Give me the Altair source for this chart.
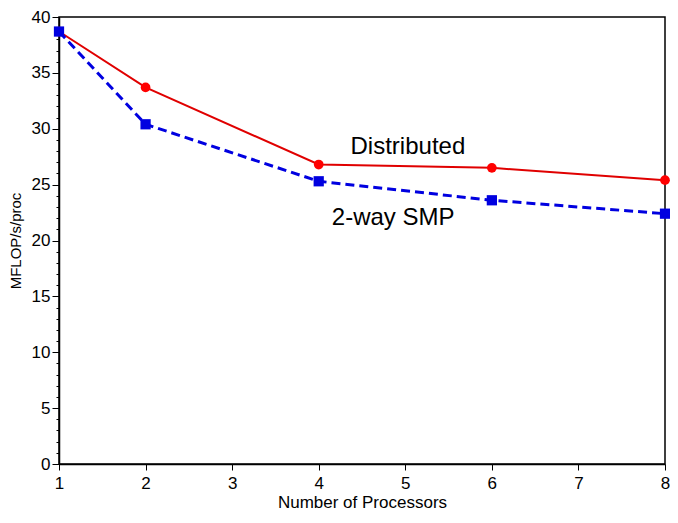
import altair as alt
import pandas as pd

procs = [1, 2, 4, 6, 8]
distributed = [38.7, 33.7, 26.8, 26.5, 25.4]
smp = [38.7, 30.4, 25.3, 23.6, 22.4]
labels = ["Distributed", "2-way SMP"]
label_x = [5.03, 4.86]
label_y = [28.4, 22.0]

df_d = pd.DataFrame({"p": procs, "v": distributed})
df_s = pd.DataFrame({"p": procs, "v": smp})
df_lab = pd.DataFrame({"t": labels, "x": label_x, "y": label_y})
df_minor = pd.DataFrame({"p": [1], "v": [0]})

FONT = "Liberation Sans"
xs = alt.Scale(domain=[1, 8], nice=False, zero=False)
ys = alt.Scale(domain=[0, 40], nice=False)

xax = alt.Axis(values=list(range(1, 9)), grid=False, title="Number of Processors", format="d",
               tickSize=6, tickColor="black", domainColor="black", labelColor="black",
               labelFontSize=17, titleFontSize=17, titleFontWeight="normal",
               labelFont=FONT, titleFont=FONT, labelPadding=5, titlePadding=3,
               titleColor="black", labelFlush=False)
yax = alt.Axis(values=list(range(0, 41, 5)), grid=False, title="MFLOP/s/proc", orient="left",
               tickSize=7, tickColor="black", domainColor="black", labelColor="black",
               labelFontSize=17, titleFontSize=15, titleFontWeight="normal",
               labelFont=FONT, titleFont=FONT, labelPadding=2, titlePadding=8,
               titleColor="black", labelFlush=False)
yminor = alt.Axis(values=list(range(0, 41)), grid=False, title=None, orient="left",
                  labels=False, tickSize=3, tickColor="black", domain=False)

red_line = alt.Chart(df_d).mark_line(color="#e00000", strokeWidth=2).encode(
    x=alt.X("p:Q", scale=xs, axis=xax), y=alt.Y("v:Q", scale=ys, axis=yax))
red_pts = alt.Chart(df_d).mark_point(shape="circle", filled=True, color="#ff0000",
                                     size=95, opacity=1).encode(
    x=alt.X("p:Q", scale=xs), y=alt.Y("v:Q", scale=ys))
blue_line = alt.Chart(df_s).mark_line(color="#0000e0", strokeWidth=3,
                                      strokeDash=[9, 5]).encode(
    x=alt.X("p:Q", scale=xs), y=alt.Y("v:Q", scale=ys))
blue_pts = alt.Chart(df_s).mark_point(shape="square", filled=True, color="#0000e0",
                                      size=105, opacity=1).encode(
    x=alt.X("p:Q", scale=xs), y=alt.Y("v:Q", scale=ys))
texts = alt.Chart(df_lab).mark_text(font=FONT, fontSize=24, color="black").encode(
    x=alt.X("x:Q", scale=xs), y=alt.Y("y:Q", scale=ys), text="t:N")
minor = alt.Chart(df_minor).mark_point(opacity=0).encode(
    x=alt.X("p:Q", scale=xs), y=alt.Y("v:Q", scale=ys, axis=yminor))

main = alt.layer(red_line, blue_line, red_pts, blue_pts, texts)
chart = alt.layer(minor, main).resolve_axis(y="independent").properties(
    width=606, height=447,
    autosize=alt.AutoSizeParams(type="none"),
    padding={"left": 51, "top": 9, "right": 5, "bottom": 47},
    background="white",
).configure_view(stroke="black", strokeWidth=1.5).configure_axis(domainWidth=1.5)

chart.save("out.html", embed_options={"renderer": "svg", "actions": False})
